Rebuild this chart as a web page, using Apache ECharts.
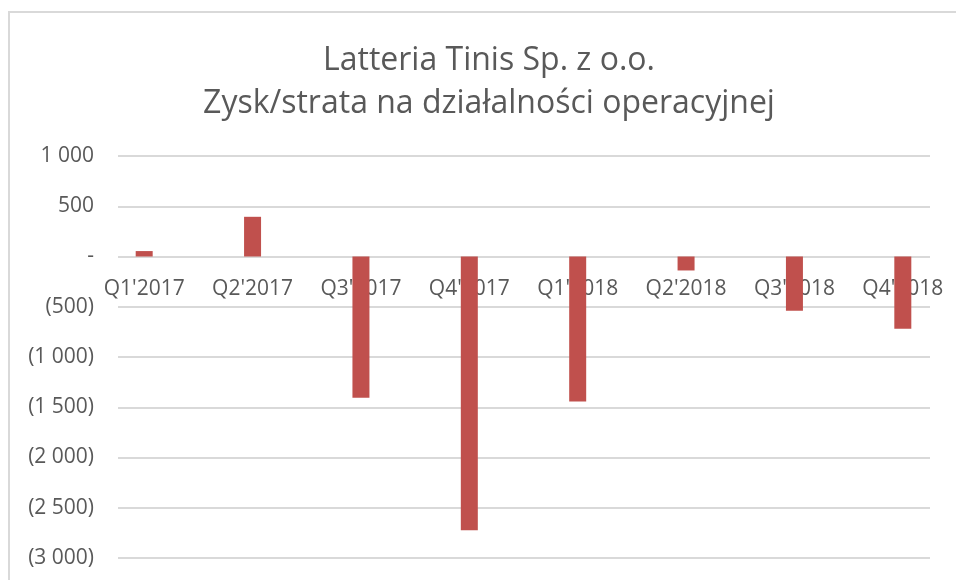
<!DOCTYPE html>
<html>
<head>
<meta charset="utf-8">
<script src="https://cdn.jsdelivr.net/npm/echarts@6/dist/echarts.min.js"></script>
<style>
  html, body { margin: 0; padding: 0; background: #fff; }
  #chart { width: 956px; height: 580px; }
</style>
</head>
<body>
<div id="chart"></div>
<script>
const quarters = ["Q1'2017", "Q2'2017", "Q3'2017", "Q4'2017", "Q1'2018", "Q2'2018", "Q3'2018", "Q4'2018"];
const operatingResult = [54, 395, -1405, -2723, -1444, -139, -540, -719];
const yMin = -3000;
const yMax = 1000;
const yStep = 500;

function formatAmount(v) {
  if (v === 0) return '-';
  const s = Math.abs(v).toString().replace(/\B(?=(\d{3})+(?!\d))/g, ' ');
  return v < 0 ? '(' + s + ')' : s;
}

let chartDom = document.getElementById('chart');
let chart = echarts.init(chartDom, null, {renderer: 'canvas'});
let option;

const textColor = '#595959';
const font = 'Open Sans';
const gridTop = 156;
const gridBottom = 22;
// move the category labels up to the zero line
const plotHeight = 580 - gridTop - gridBottom;
const zeroOffset = -plotHeight * (0 - yMin) / (yMax - yMin);

option = {
  backgroundColor: '#ffffff',
  animation: false,
  title: {
    text: 'Latteria Tinis Sp. z o.o.\nZysk/strata na działalności operacyjnej',
    left: 489,
    textAlign: 'center',
    top: 39,
    padding: 0,
    textStyle: {
      fontFamily: font,
      fontSize: 32,
      fontWeight: 'normal',
      color: textColor,
      lineHeight: 43
    }
  },
  graphic: [
    {type: 'line', shape: {x1: 9, y1: 11, x2: 9, y2: 580}, style: {stroke: '#d9d9d9', lineWidth: 2}},
    {type: 'line', shape: {x1: 8, y1: 12, x2: 956, y2: 12}, style: {stroke: '#d9d9d9', lineWidth: 2}}
  ],
  grid: [
    {left: 118, right: 26, top: gridTop, bottom: gridBottom, outerBoundsMode: 'none', containLabel: false},
    {left: 90, right: -1, top: gridTop, bottom: gridBottom, outerBoundsMode: 'none', containLabel: false}
  ],
  xAxis: [
    {
      gridIndex: 0,
      type: 'category',
      data: quarters,
      show: false
    },
    {
      gridIndex: 1,
      type: 'category',
      data: quarters,
      position: 'bottom',
      offset: zeroOffset,
      axisLine: {show: false, onZero: false},
      axisTick: {show: false},
      axisLabel: {
        margin: 22,
        fontFamily: font,
        fontSize: 21,
        color: textColor
      }
    }
  ],
  yAxis: [
    {
      gridIndex: 0,
      type: 'value',
      min: yMin,
      max: yMax,
      interval: yStep,
      axisLine: {show: false},
      axisTick: {show: false},
      splitLine: {lineStyle: {color: '#d9d9d9', width: 2}},
      axisLabel: {
        margin: 24,
        fontFamily: font,
        fontSize: 21,
        color: textColor,
        formatter: formatAmount
      }
    },
    {
      gridIndex: 1,
      type: 'value',
      min: yMin,
      max: yMax,
      interval: yStep,
      axisLine: {show: false},
      axisTick: {show: false},
      axisLabel: {show: false},
      splitLine: {show: false}
    }
  ],
  series: [
    {
      type: 'bar',
      xAxisIndex: 1,
      yAxisIndex: 1,
      data: operatingResult,
      barWidth: 17,
      itemStyle: {color: '#c0504d'}
    }
  ]
};

chart.setOption(option);
window.addEventListener('resize', function () {
  chart.resize();
});
</script>
</body>
</html>
